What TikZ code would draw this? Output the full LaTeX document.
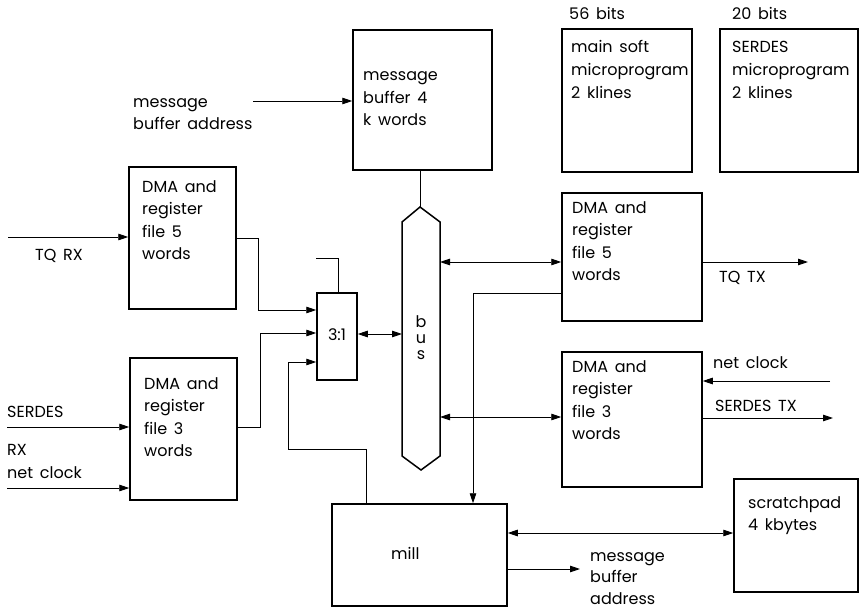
\documentclass[tikz,border=0pt]{standalone}
\usepackage{fontspec}
\setmainfont{Poppins}
\usetikzlibrary{arrows.meta}
\newcommand{\linesof}[1]{\begin{tabular}[t]{@{}l@{}}#1\end{tabular}}
\newcommand{\labelfont}{\fontsize{16}{22.5}\selectfont\spaceskip=0.42em plus 0.1em}
\begin{document}
\begin{tikzpicture}[x=1pt,y=-1pt,
  box/.style={draw, line width=1.5pt, inner sep=0pt},
  wire/.style={line width=0.9pt},
  arr/.style={wire, -{Triangle[length=10pt,width=6.5pt]}},
  biarr/.style={wire, {Triangle[length=10pt,width=6.5pt]}-{Triangle[length=10pt,width=6.5pt]}},
  lbl/.style={anchor=base west, inner sep=0pt, font=\labelfont}]
\useasboundingbox (0,0) rectangle (862,610);

% ---- blocks ----
\node[box, minimum width=139pt, minimum height=140pt] (msgbuf)   at (422.5,100) {};
\node[box, minimum width=130pt, minimum height=143pt] (mainsoft) at (627,100.5) {};
\node[box, minimum width=138pt, minimum height=143pt] (serdesmp) at (789,100.5) {};
\node[box, minimum width=107pt, minimum height=142pt] (dmarx)    at (182.5,238) {};
\node[box, minimum width=107pt, minimum height=142pt] (dmasr)    at (183.5,429) {};
\node[box, minimum width=40pt,  minimum height=87pt]  (mux)      at (337,336.5) {};
\node[box, minimum width=140pt, minimum height=128pt] (dmatx)    at (632,257) {};
\node[box, minimum width=140pt, minimum height=135pt] (dmast)    at (632,419.5) {};
\node[box, minimum width=175pt, minimum height=102pt] (mill)     at (419.5,555) {};
\node[box, minimum width=124pt, minimum height=113pt] (scratch)  at (796,535.5) {};

% bus: elongated hexagon
\coordinate (bustop) at (420,207);
\coordinate (busbot) at (421,470);
\draw[line width=1.5pt, line join=miter]
  (bustop) -- (440,222) -- (440,456) -- (busbot) -- (402,456) -- (402,222) -- cycle;
\node[inner sep=0pt, align=center, font=\fontsize{16}{16}\selectfont] (buslbl) at (421,338) {b\\u\\s};

% ---- block texts ----
\node[lbl] (t-msgbuf)   at (363,81)  {\linesof{message\\buffer 4\\k words}};
\node[lbl] (t-mainsoft) at (571,53)  {\linesof{main soft\\microprogram\\2 klines}};
\node[lbl] (t-serdesmp) at (732,53)  {\linesof{SERDES\\microprogram\\2 klines}};
\node[lbl] (t-56)       at (569,20)  {56 bits};
\node[lbl] (t-20)       at (732,20)  {20 bits};
\node[lbl] (t-dmarx)    at (142,192) {\linesof{DMA and\\register\\file 5\\words}};
\node[lbl] (t-dmasr)    at (144,389) {\linesof{DMA and\\register\\file 3\\words}};
\node[lbl] (t-dmatx)    at (572,213) {\linesof{DMA and\\register\\file 5\\words}};
\node[lbl] (t-dmast)    at (572,372) {\linesof{DMA and\\register\\file 3\\words}};
\node[inner sep=0pt, font=\fontsize{16}{20}\selectfont] (t-mux) at (337,335) {3:1};
\node[lbl] (t-mill)     at (391,559) {mill};
\node[lbl] (t-scratch)  at (748,508) {\linesof{scratchpad\\4 kbytes}};

% ---- signal labels ----
\node[lbl] (l-mba)   at (133,107) {\linesof{message\\buffer address}};
\node[lbl] (l-tqrx)  at (35,260)  {TQ RX};
\node[lbl] (l-srx)   at (7,417)   {SERDES};
\node[lbl] (l-rx)    at (7,455)   {RX};
\node[lbl] (l-nclk)  at (7,478)   {net clock};
\node[lbl] (l-tqtx)  at (719,282) {TQ TX};
\node[lbl] (l-nclk2) at (713,368) {net clock};
\node[lbl] (l-stx)   at (715,411) {SERDES TX};
\node[lbl, font=\fontsize{16}{21.5}\selectfont] (l-mba2) at (590,561) {\linesof{message\\buffer\\address}};

% ---- free ends ----
\coordinate (in-mba)   at (253,101);
\coordinate (in-tqrx)  at (8,237);
\coordinate (in-srx)   at (7,427);
\coordinate (in-nclk)  at (7,488);
\coordinate (out-tqtx) at (808,262);
\coordinate (in-nclk2) at (830,381);
\coordinate (out-stx)  at (833,418);
\coordinate (out-mba)  at (580,569);
\coordinate (stub)     at (316,258);

% ---- connectors ----
\draw[arr] (in-mba) -- (in-mba -| msgbuf.west);
\draw[wire] (msgbuf.south -| bustop) -- (bustop);

\draw[arr] (in-tqrx) -- (in-tqrx -| dmarx.west);
\draw[arr] (in-srx)  -- (in-srx -| dmasr.west);
\draw[arr] (in-nclk) -- (in-nclk -| dmasr.west);

\draw[arr] (dmarx.east |- 0,238) -- (258,238) -- (258,310) -- (mux.west |- 0,310);
\draw[arr] (dmasr.east |- 0,427) -- (260,427) -- (260,333) -- (mux.west |- 0,333);
\draw[arr] (mill.north -| 366,0) -- (366,449) -- (288,449) -- (288,362) -- (mux.west |- 0,362);
\draw[wire] (mux.north -| 338,0) -- (338,258) -- (stub);

\draw[biarr] (mux.east |- 0,334) -- (402,334);
\draw[biarr] (440,262) -- (dmatx.west |- 0,262);
\draw[biarr] (440,417) -- (dmast.west |- 0,417);

\draw[arr] (dmatx.west |- 0,293) -- (473,293) -- (mill.north -| 473,0);

\draw[arr] (dmatx.east |- out-tqtx) -- (out-tqtx);
\draw[arr] (in-nclk2) -- (in-nclk2 -| dmast.east);
\draw[arr] (dmast.east |- out-stx) -- (out-stx);

\draw[biarr] (mill.east |- 0,533) -- (scratch.west |- 0,533);
\draw[arr] (mill.east |- out-mba) -- (out-mba);
\end{tikzpicture}
\end{document}
